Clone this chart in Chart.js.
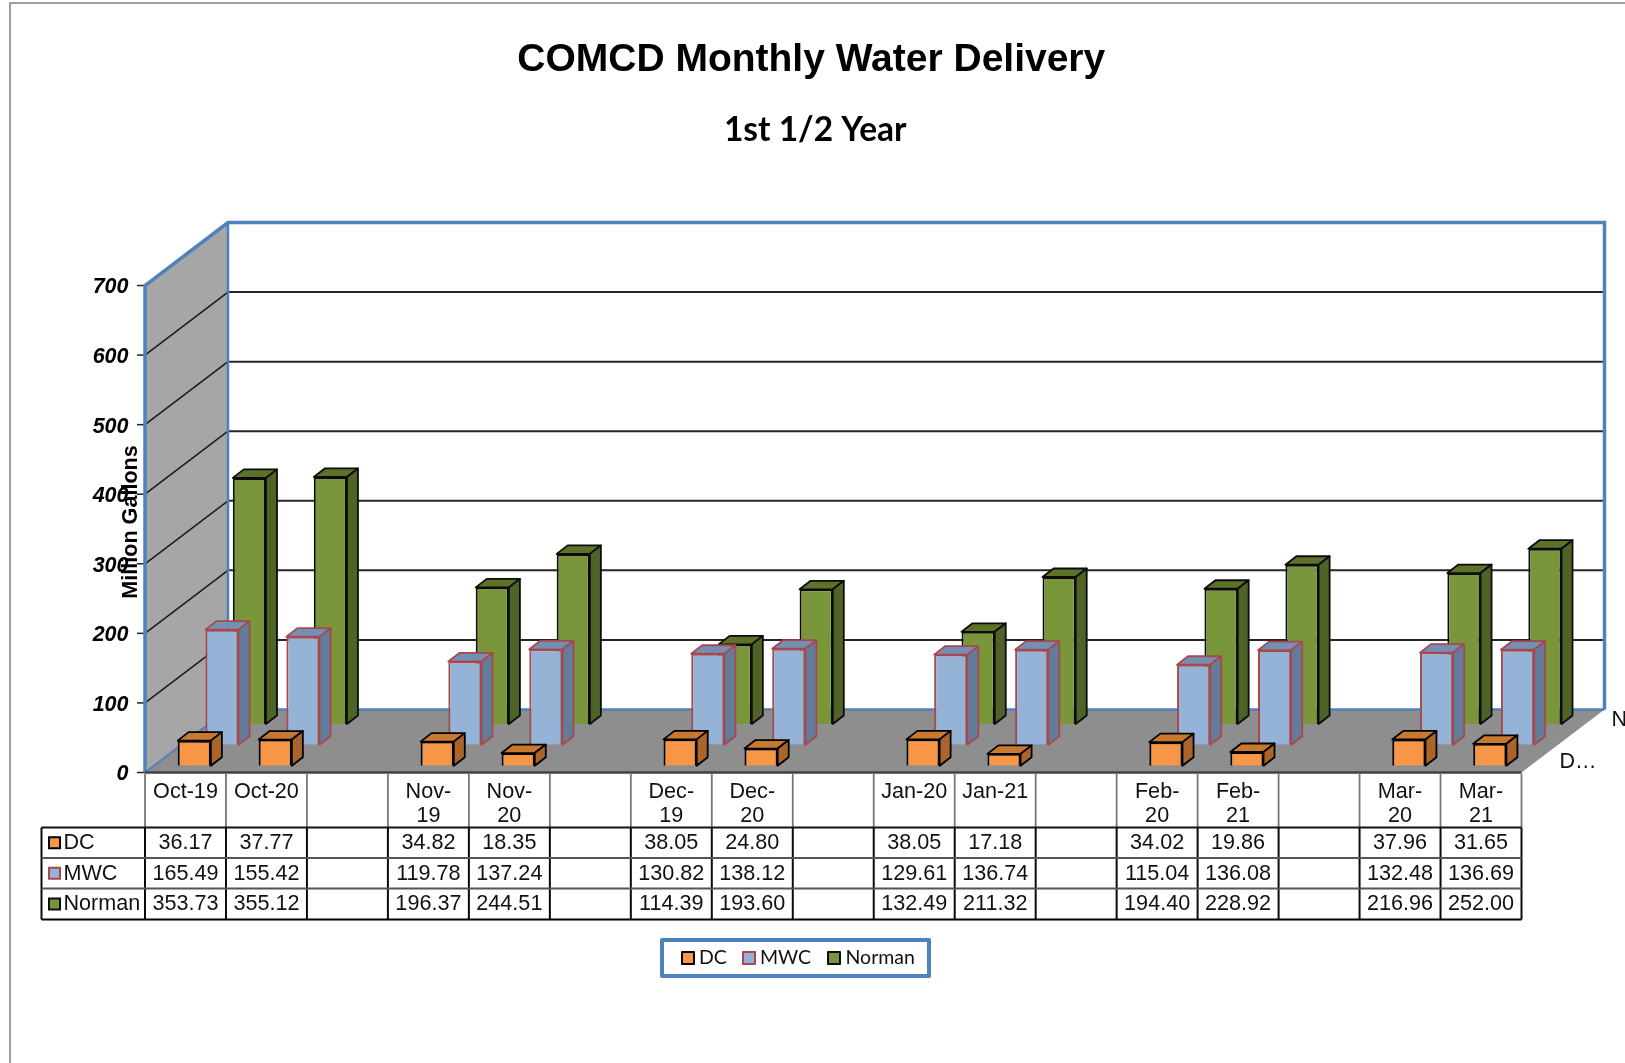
<!DOCTYPE html>
<html>
<head>
<meta charset="utf-8">
<style>html,body{margin:0;padding:0;background:#fff;overflow:hidden}canvas{display:block}</style>
<script src="https://cdn.jsdelivr.net/npm/chart.js@4/dist/chart.umd.min.js"></script>
</head>
<body>
<canvas id="c" width="1625" height="1063"></canvas>
<script>
const categories = ['Oct-19','Oct-20','',['Nov-','19'],['Nov-','20'],'',['Dec-','19'],['Dec-','20'],'','Jan-20','Jan-21','',['Feb-','20'],['Feb-','21'],'',['Mar-','20'],['Mar-','21']];
const dcValues = [36.17,37.77,null,34.82,18.35,null,38.05,24.80,null,38.05,17.18,null,34.02,19.86,null,37.96,31.65];
const mwcValues = [165.49,155.42,null,119.78,137.24,null,130.82,138.12,null,129.61,136.74,null,115.04,136.08,null,132.48,136.69];
const normanValues = [353.73,355.12,null,196.37,244.51,null,114.39,193.60,null,132.49,211.32,null,194.40,228.92,null,216.96,252.00];
const seriesNames = ['DC','MWC','Norman'];
const yTicks = [0,100,200,300,400,500,600,700];

const SANS = '"Liberation Sans", Arial, sans-serif';
const CAL = 'Lato, "Open Sans", sans-serif';
const BLUE = '#4F81BD';
const DEPTH = {dx: 83, dy: -63};
const BAR_D = {dx: 11, dy: -8.5};
const styles = [
  {face:'#F79646', top:'#C9792F', side:'#AB652B', line:'#000000', rowDepth:0.106},
  {face:'#95B3D7', top:'#7390B4', side:'#647C9C', line:'#A8484C', rowDepth:0.44},
  {face:'#7A963B', top:'#5C7228', side:'#4F6326', line:'#0c0c0c', rowDepth:0.77}
];

function line(ctx, pts, color, w){
  ctx.save();ctx.beginPath();ctx.strokeStyle=color;ctx.lineWidth=w;
  pts.forEach((p,i)=> i?ctx.lineTo(p[0],p[1]):ctx.moveTo(p[0],p[1]));
  ctx.stroke();ctx.restore();
}
function poly(ctx, pts, color){
  ctx.save();ctx.beginPath();ctx.fillStyle=color;
  pts.forEach((p,i)=> i?ctx.lineTo(p[0],p[1]):ctx.moveTo(p[0],p[1]));
  ctx.closePath();ctx.fill();ctx.restore();
}

const threeD = {
  id:'threeD',
  afterLayout(chart){
    chart.boxes.forEach(b=>{
      if(!b.options) return;
      if(b.options.text==='1st 1/2 Year'){b.left+=12;b.right+=12;}
      if(b.options.text==='COMCD Monthly Water Delivery'){b.left+=8;b.right+=8;}
    });
  },
  beforeDraw(chart){
    const {ctx,width,height}=chart;
    ctx.save();ctx.fillStyle='#fff';ctx.fillRect(0,0,width,height);ctx.restore();
    line(ctx,[[10,height],[10,3],[width,3]],'#7f7f7f',1.5);
  },
  beforeDatasetsDraw(chart){
    const {ctx,scales:{x,y}}=chart;
    const L=x.left,R=x.right,B=y.getPixelForValue(0),T=y.getPixelForValue(700);
    const dx=DEPTH.dx,dy=DEPTH.dy;
    poly(ctx,[[L,B],[L+dx,B+dy],[L+dx,T+dy],[L,T]],'#A6A6A6');
    poly(ctx,[[L,B],[R,B],[R+dx,B+dy],[L+dx,B+dy]],'#8E8E8E');
    yTicks.forEach(v=>{
      const p=y.getPixelForValue(v);
      if(v>0&&v<700){
        line(ctx,[[L,p],[L+dx,p+dy]],'#1a1a1a',1.5);
        line(ctx,[[L+dx,p+dy],[R+dx,p+dy]],'#262626',2);
      }
      line(ctx,[[L-8,p],[L,p]],'#222',1.5);
    });
    line(ctx,[[L,B],[L+dx,B+dy]],BLUE,2);
    line(ctx,[[L+dx,B+dy],[R+dx,B+dy]],BLUE,2.5);
    line(ctx,[[L+dx,B+dy],[L+dx,T+dy]],BLUE,2.5);
    line(ctx,[[L,B],[L,T],[L+dx,T+dy],[R+dx,T+dy],[R+dx,B+dy]],BLUE,3.5);
    line(ctx,[[L,B],[R,B]],'#404040',2.5);
    ctx.save();
    ctx.fillStyle='#111';ctx.font='21.5px '+SANS;ctx.textBaseline='middle';ctx.textAlign='left';
    ctx.fillText('N',R+dx+7,B+dy+11);
    ctx.fillText('D…',R+38,B-10);
    ctx.restore();
  },
  beforeDatasetDraw(chart,args){
    const {ctx}=chart;
    const st=styles[args.index];
    ctx.save();
    ctx.translate(DEPTH.dx*st.rowDepth,DEPTH.dy*st.rowDepth);
    const meta=args.meta;
    meta.data.forEach((el,i)=>{
      if(chart.data.datasets[args.index].data[i]==null) return;
      const p=el.getProps(['x','y','base','width'],true);
      const l=p.x-p.width/2,r=p.x+p.width/2,t=p.y,b=p.base;
      const d=BAR_D;
      ctx.save();
      ctx.strokeStyle=st.line;ctx.lineWidth=1.8;ctx.lineJoin='round';
      ctx.beginPath();ctx.moveTo(l,t);ctx.lineTo(l+d.dx,t+d.dy);ctx.lineTo(r+d.dx,t+d.dy);ctx.lineTo(r,t);ctx.closePath();
      ctx.fillStyle=st.top;ctx.fill();ctx.stroke();
      ctx.beginPath();ctx.moveTo(r,t);ctx.lineTo(r+d.dx,t+d.dy);ctx.lineTo(r+d.dx,b+d.dy);ctx.lineTo(r,b);ctx.closePath();
      ctx.fillStyle=st.side;ctx.fill();ctx.stroke();
      ctx.restore();
    });
  },
  afterDatasetDraw(chart){ chart.ctx.restore(); },
  afterDraw(chart){
    const {ctx,scales:{x,y}}=chart;
    const col=(x.right-x.left)/categories.length;
    const tableLeft=41.5;
    const rows=[827.5,858,888.5,919.5];
    const B=y.getPixelForValue(0);
    const series=[dcValues,mwcValues,normanValues];
    for(let i=0;i<=categories.length;i++){
      const px=x.left+i*col;
      line(ctx,[[px,B+1],[px,rows[0]]],'#777',1.8);
      line(ctx,[[px,rows[0]],[px,rows[3]]],'#0a0a0a',2);
    }
    line(ctx,[[tableLeft,rows[0]],[tableLeft,rows[3]]],'#0a0a0a',2);
    line(ctx,[[tableLeft,rows[0]],[x.right,rows[0]]],'#111',2);
    line(ctx,[[tableLeft,rows[1]],[x.right,rows[1]]],'#555',2);
    line(ctx,[[tableLeft,rows[2]],[x.right,rows[2]]],'#555',2);
    line(ctx,[[tableLeft,rows[3]],[x.right,rows[3]]],'#000',2);
    ctx.save();
    ctx.fillStyle='#111';ctx.font='21.6px '+SANS;ctx.textAlign='center';ctx.textBaseline='middle';
    categories.forEach((c,i)=>{
      const cx=x.getPixelForValue(i);
      const lines=Array.isArray(c)?c:[c];
      lines.forEach((t,k)=>ctx.fillText(t,cx,792+k*24.5));
      series.forEach((s,r)=>{
        if(s[i]!=null) ctx.fillText(s[i].toFixed(2),cx,(rows[r]+rows[r+1])/2+0.5);
      });
    });
    ctx.textAlign='left';
    seriesNames.forEach((n,r)=>{
      const cy=(rows[r]+rows[r+1])/2;
      const st=styles[r];
      ctx.fillStyle=st.face;ctx.strokeStyle=st.line;ctx.lineWidth=2;
      ctx.fillRect(49,cy-5.5,11,11);ctx.strokeRect(49,cy-5.5,11,11);
      ctx.fillStyle='#111';
      ctx.fillText(n,63.5,cy+0.5);
    });
    ctx.save();
    ctx.strokeStyle=BLUE;ctx.lineWidth=4;ctx.lineJoin='round';ctx.strokeRect(662,940,267,36);
    const sw=[681,742,827],tx=[699,760,845.5];
    ctx.font='19.5px '+CAL;
    seriesNames.forEach((n,r)=>{
      const st=styles[r];
      ctx.fillStyle=st.face;ctx.strokeStyle=st.line;ctx.lineWidth=2;
      ctx.fillRect(sw[r]+1,952,12,12);ctx.strokeRect(sw[r]+1,952,12,12);
      ctx.fillStyle='#111';ctx.fillText(n,tx[r],958);
    });
    ctx.restore();
    ctx.translate(131.5,522);ctx.rotate(-Math.PI/2);
    ctx.font='bold 21.6px '+SANS;ctx.textAlign='center';ctx.fillStyle='#000';
    ctx.fillText('Million Gallons',0,0);
    ctx.restore();
  }
};

const bar = (i,vals)=>({
  label:seriesNames[i],data:vals,backgroundColor:styles[i].face,borderColor:styles[i].line,
  borderWidth:2,barPercentage:0.41,categoryPercentage:1,grouped:false
});

new Chart(document.getElementById('c'),{
  type:'bar',
  data:{labels:categories,datasets:[bar(0,dcValues),bar(1,mwcValues),bar(2,normanValues)]},
  options:{
    responsive:false,animation:false,
    layout:{padding:{left:85,right:103.5,top:0,bottom:290.5}},
    plugins:{
      legend:{display:false},tooltip:{enabled:false},
      title:{display:true,text:'COMCD Monthly Water Delivery',color:'#000',
        font:{family:SANS,size:39,weight:'bold',lineHeight:1.2},padding:{top:36.6,bottom:29}},
      subtitle:{display:true,text:'1st 1/2 Year',color:'#000',
        font:{family:CAL,size:33.5,weight:'bold',lineHeight:1.075},padding:{top:0,bottom:137.1}}
    },
    scales:{
      x:{display:false,grid:{display:false}},
      y:{min:0,max:700,grid:{display:false,drawTicks:false},border:{display:false},
        afterFit(s){s.width=60;},
        afterBuildTicks(s){s.ticks=yTicks.map(v=>({value:v}));},
        ticks:{padding:16.5,labelOffset:2,color:'#000',font:{family:SANS,size:21.5,weight:'bold',style:'italic'}}}
    }
  },
  plugins:[threeD]
});
</script>
</body>
</html>
